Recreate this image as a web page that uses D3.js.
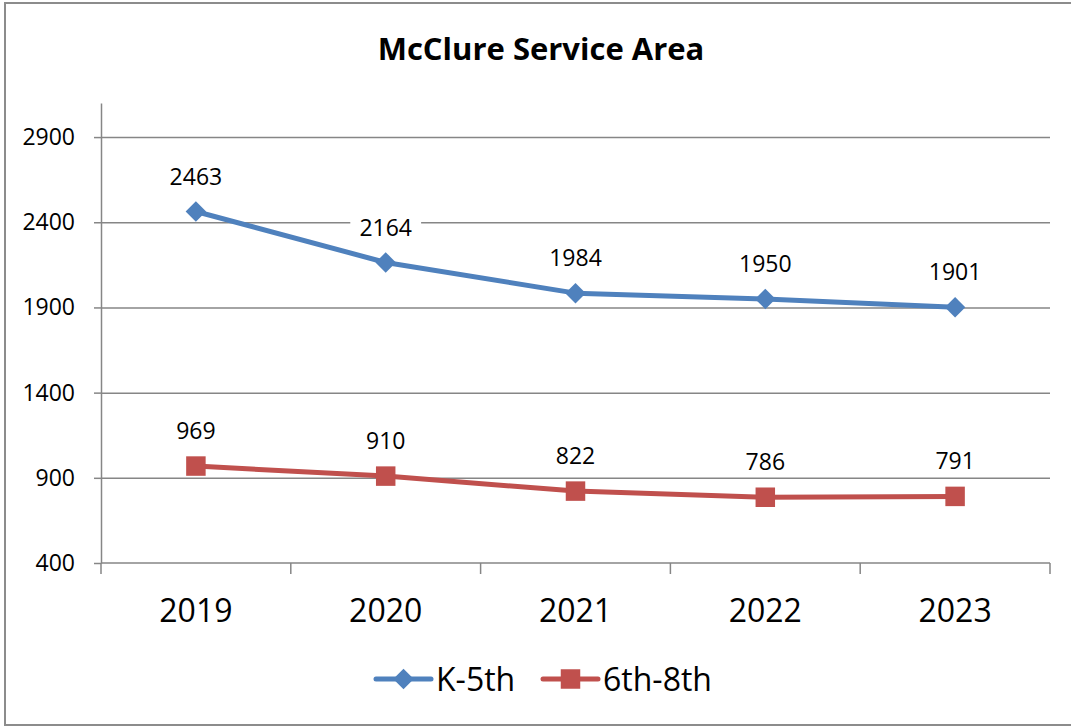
<!DOCTYPE html>
<html lang="en">
<head>
    <meta charset="UTF-8">
    <title>McClure Service Area</title>
    <script src="https://d3js.org/d3.v7.min.js"></script>
    <style>
        body { margin: 0; background: #fff; }
        svg { display: block; }
        text { font-family: "Open Sans", sans-serif; fill: #000; }
    </style>
</head>
<body>
<svg width="1071" height="726"></svg>

<script>
    // chart data
    const years = ["2019", "2020", "2021", "2022", "2023"];
    const k5 = [2463, 2164, 1984, 1950, 1901];
    const g68 = [969, 910, 822, 786, 791];
    const yTicks = [400, 900, 1400, 1900, 2400, 2900];
    const seriesNames = ["K-5th", "6th-8th"];

    const svg = d3.select("svg");
    const blue = "#4f81bd", red = "#c0504d", grid = "#868686";

    // outer chart border (right edge falls outside the picture)
    svg.append("rect")
        .attr("x", 5).attr("y", 3)
        .attr("width", 1080).attr("height", 722)
        .attr("fill", "none").attr("stroke", "#8c8c8c").attr("stroke-width", 2);

    svg.append("text")
        .attr("x", 541).attr("y", 60)
        .attr("text-anchor", "middle")
        .attr("font-size", "31px").attr("font-weight", "bold")
        .text("McClure Service Area");

    const x = d3.scaleBand().domain(years).range([101, 1050]).padding(0);
    const y = d3.scaleLinear().domain([400, 3100]).range([563, 103]);

    // value axis + gridlines
    const gAxisY = svg.append("g").attr("transform", "translate(101,0)")
        .call(d3.axisLeft(y).tickValues(yTicks).tickSize(7).tickPadding(19)
            .tickSizeOuter(0).tickFormat(d3.format("d")));
    gAxisY.select(".domain").attr("stroke", grid).attr("stroke-width", 1.5);
    gAxisY.selectAll(".tick line").attr("stroke", grid).attr("stroke-width", 1.5);
    gAxisY.selectAll(".tick text").attr("font-size", "23px")
        .attr("font-family", "'Open Sans', sans-serif").attr("fill", "#000");
    gAxisY.selectAll(".tick").filter(d => d > 400).append("line")
        .attr("x1", 0).attr("x2", 949)
        .attr("stroke", grid).attr("stroke-width", 1.5);

    // category axis, ticks on band boundaries
    const gAxisX = svg.append("g").attr("transform", "translate(0,563)");
    gAxisX.append("line").attr("x1", 101).attr("x2", 1050)
        .attr("stroke", grid).attr("stroke-width", 1.5);
    const bounds = years.map(d => x(d)).concat([x(years[years.length - 1]) + x.bandwidth()]);
    gAxisX.selectAll("line.tk").data(bounds).enter().append("line")
        .attr("class", "tk")
        .attr("x1", d => d).attr("x2", d => d)
        .attr("y1", 0).attr("y2", 11)
        .attr("stroke", grid).attr("stroke-width", 1.5);
    gAxisX.selectAll("text").data(years).enter().append("text")
        .attr("x", d => x(d) + x.bandwidth() / 2)
        .attr("y", 59)
        .attr("text-anchor", "middle")
        .attr("font-size", "32px")
        .text(d => d);

    const cx = d => x(d) + x.bandwidth() / 2;
    const line = d3.line().x(d => cx(d.year)).y(d => y(d.v));

    // diamond = square turned 45 degrees
    const series = [
        { name: seriesNames[0], color: blue, rot: 45,
          pts: years.map((yr, i) => ({ year: yr, v: k5[i] })) },
        { name: seriesNames[1], color: red, rot: 0,
          pts: years.map((yr, i) => ({ year: yr, v: g68[i] })) }
    ];
    const markerSize = { 45: 210, 0: 380 };

    series.forEach(s => {
        svg.append("path")
            .datum(s.pts)
            .attr("d", line)
            .attr("fill", "none")
            .attr("stroke", s.color)
            .attr("stroke-width", 5)
            .attr("stroke-linejoin", "round");
        svg.append("g").selectAll("path")
            .data(s.pts).enter().append("path")
            .attr("transform", d => `translate(${cx(d.year)},${y(d.v)}) rotate(${s.rot})`)
            .attr("d", d3.symbol().type(d3.symbolSquare).size(markerSize[s.rot]))
            .attr("fill", s.color);
    });

    // data labels with white box
    series.forEach(s => {
        const lab = svg.append("g").selectAll("g")
            .data(s.pts).enter().append("g")
            .attr("transform", d => `translate(${cx(d.year)},${y(d.v) - 35})`);
        lab.append("rect")
            .attr("x", d => -String(d.v).length * 6.6 - 9)
            .attr("width", d => String(d.v).length * 13.2 + 18)
            .attr("y", -14).attr("height", 28)
            .attr("fill", "#fff");
        lab.append("text")
            .attr("text-anchor", "middle")
            .attr("dy", "0.35em")
            .attr("font-size", "23px")
            .text(d => d.v);
    });

    // legend
    const legend = svg.append("g").attr("transform", "translate(0,679)");
    const legendX = [376, 543];
    series.forEach((s, i) => {
        const g = legend.append("g").attr("transform", `translate(${legendX[i]},0)`);
        g.append("line").attr("x1", 0).attr("x2", 55)
            .attr("stroke", s.color).attr("stroke-width", 5)
            .attr("stroke-linecap", "round");
        g.append("path")
            .attr("transform", `translate(27.5,0) rotate(${s.rot})`)
            .attr("d", d3.symbol().type(d3.symbolSquare).size(markerSize[s.rot]))
            .attr("fill", s.color);
        g.append("text")
            .attr("x", 60).attr("dy", "0.36em")
            .attr("font-size", "32px")
            .text(s.name);
    });
</script>
</body>
</html>
